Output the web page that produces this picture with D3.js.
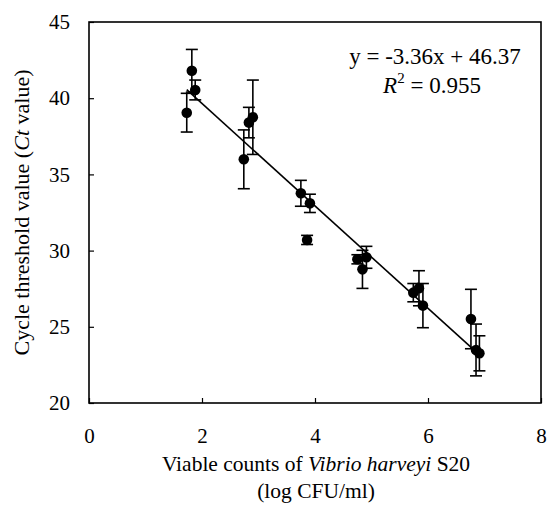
<!DOCTYPE html>
<html>
<head>
<meta charset="utf-8">
<script src="https://cdn.jsdelivr.net/npm/d3@7"></script>
<style>
  body { margin: 0; background: #fff; }
  svg { display: block; font-family: "Liberation Serif", "Times New Roman", serif; }
</style>
</head>
<body>
<svg width="549" height="521"></svg>
<script>
// log CFU/ml
const logCfu = [1.73, 1.82, 1.88, 2.74, 2.83, 2.90, 3.75, 3.91, 3.86, 4.75, 4.84, 4.91, 5.74, 5.84, 5.91, 6.76, 6.85, 6.91];
// Ct value moyen
const ctVals = [39.05, 41.8, 40.54, 35.99, 38.4, 38.75, 33.76, 33.1, 30.7, 29.43, 28.77, 29.56, 27.24, 27.53, 26.39, 25.51, 23.48, 23.26];
// écart type
const ctErr = [1.27, 1.4, 0.65, 1.93, 1.0, 2.44, 0.85, 0.6, 0.3, 0.3, 1.25, 0.72, 0.6, 1.15, 1.45, 1.95, 1.7, 1.15];

const xTicks = [0, 2, 4, 6, 8];
const yTicks = [20, 25, 30, 35, 40, 45];

// droite de régression
const pente = -3.36;
const ordonnee = 46.37;
const r2 = 0.955;

const svg = d3.select("svg");

const xScale = d3.scaleLinear().domain([0, 8]).range([89, 541]);
const yScale = d3.scaleLinear().domain([20, 45]).range([403, 22]);

// Cadre
svg.append("rect")
    .attr("x", xScale(0))
    .attr("y", yScale(45))
    .attr("width", xScale(8) - xScale(0))
    .attr("height", yScale(20) - yScale(45))
    .attr("fill", "none")
    .attr("stroke", "#000")
    .attr("stroke-width", 1.6);

// Axes (graduations vers l'intérieur)
const xAxis = svg.append("g")
    .attr("transform", `translate(0,${yScale(20)})`)
    .call(d3.axisBottom(xScale).tickValues(xTicks).tickSizeInner(-5).tickSizeOuter(0).tickPadding(25));
xAxis.select(".domain").remove();
xAxis.selectAll("line").attr("stroke-width", 1.2);
xAxis.selectAll("text").attr("font-size", 21).attr("font-family", "Liberation Serif").attr("fill", "#000");

const yAxis = svg.append("g")
    .attr("transform", `translate(${xScale(0)},0)`)
    .call(d3.axisLeft(yScale).tickValues(yTicks).tickSizeInner(-5).tickSizeOuter(0).tickPadding(19));
yAxis.select(".domain").remove();
yAxis.selectAll("line").attr("stroke-width", 1.2);
yAxis.selectAll("text").attr("font-size", 21).attr("font-family", "Liberation Serif").attr("fill", "#000");

// Droite de régression
const xMin = d3.min(logCfu), xMax = d3.max(logCfu);
svg.append("line")
    .attr("x1", xScale(xMin))
    .attr("y1", yScale(pente * xMin + ordonnee))
    .attr("x2", xScale(xMax))
    .attr("y2", yScale(pente * xMax + ordonnee))
    .attr("stroke", "#000")
    .attr("stroke-width", 1.6);

const points = logCfu.map((x, i) => ({ x: x, y: ctVals[i], e: ctErr[i] }));

// Barres d'erreur
const barres = svg.append("g").attr("stroke", "#000").attr("stroke-width", 1.6);
points.forEach(p => {
    const cx = xScale(p.x);
    barres.append("line")
        .attr("x1", cx).attr("x2", cx)
        .attr("y1", yScale(p.y + p.e)).attr("y2", yScale(p.y - p.e));
    [p.y + p.e, p.y - p.e].forEach(v => {
        barres.append("line")
            .attr("x1", cx - 6).attr("x2", cx + 6)
            .attr("y1", yScale(v)).attr("y2", yScale(v));
    });
});

// Points
svg.append("g")
    .selectAll("circle")
    .data(points)
    .enter()
    .append("circle")
    .attr("cx", d => xScale(d.x))
    .attr("cy", d => yScale(d.y))
    .attr("r", 5.3)
    .attr("fill", "#000");

// Equation
svg.append("text")
    .attr("x", 435)
    .attr("y", 64)
    .attr("text-anchor", "middle")
    .attr("font-size", 23)
    .text(`y = ${pente.toFixed(2)}x + ${ordonnee.toFixed(2)}`);

const r2Text = svg.append("text")
    .attr("x", 432)
    .attr("y", 93)
    .attr("text-anchor", "middle")
    .attr("font-size", 23);
r2Text.append("tspan").attr("font-style", "italic").text("R");
r2Text.append("tspan").attr("font-size", 15).attr("dy", -10).text("2");
r2Text.append("tspan").attr("dy", 10).text(` = ${r2.toFixed(3)}`);

// Titre axe y
const yTitre = svg.append("text")
    .attr("transform", `translate(29,${(yScale(20) + yScale(45)) / 2}) rotate(-90)`)
    .attr("text-anchor", "middle")
    .attr("font-size", 22);
yTitre.append("tspan").text("Cycle threshold value (");
yTitre.append("tspan").attr("font-style", "italic").text("Ct");
yTitre.append("tspan").text(" value)");

// Titre axe x
const xTitre = svg.append("text")
    .attr("x", 316)
    .attr("y", 471)
    .attr("text-anchor", "middle")
    .attr("font-size", 21.5);
xTitre.append("tspan").text("Viable counts of ");
xTitre.append("tspan").attr("font-style", "italic").text("Vibrio harveyi");
xTitre.append("tspan").text(" S20");

svg.append("text")
    .attr("x", 316)
    .attr("y", 498)
    .attr("text-anchor", "middle")
    .attr("font-size", 21.5)
    .text("(log CFU/ml)");
</script>
</body>
</html>
